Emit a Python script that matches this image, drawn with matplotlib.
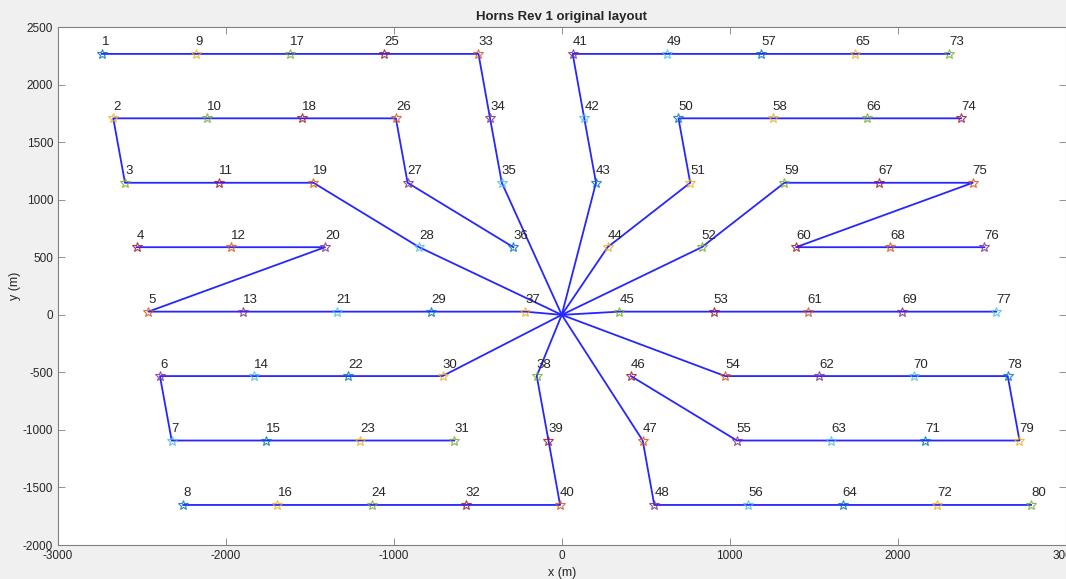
import matplotlib
matplotlib.use("Agg")
import matplotlib.pyplot as plt

# Turbine coordinates (m), numbered 1..80 column by column (8 turbines per column)
turbine_x = [
    -2740, -2671, -2601, -2532, -2462, -2393, -2323, -2254,
    -2179, -2110, -2040, -1971, -1901, -1832, -1762, -1693,
    -1618, -1549, -1479, -1410, -1340, -1271, -1201, -1132,
    -1057, -988, -918, -849, -779, -710, -640, -571,
    -496, -427, -357, -288, -218, -149, -79, -10,
    65, 134, 204, 273, 343, 412, 482, 551,
    626, 695, 765, 834, 904, 973, 1043, 1112,
    1187, 1256, 1326, 1395, 1465, 1534, 1604, 1673,
    1748, 1817, 1887, 1956, 2026, 2095, 2165, 2234,
    2309, 2378, 2448, 2517, 2587, 2656, 2726, 2795,
]
row_y = [2268, 1708, 1148, 588, 28, -532, -1092, -1652]
turbine_y = row_y * 10

# Offshore substation
substation = (0, 0)

# Cable strings, listed from the substation (0) outwards
cable_strings = [
    [0, 35, 34, 33, 25, 17, 9, 1],
    [0, 28, 19, 11, 3, 2, 10, 18, 26, 27, 36],
    [0, 37, 29, 21, 13, 5, 20, 12, 4],
    [0, 30, 22, 14, 6, 7, 15, 23, 31],
    [0, 38, 39, 40, 32, 24, 16, 8],
    [0, 43, 42, 41, 49, 57, 65, 73],
    [0, 44, 51, 50, 58, 66, 74],
    [0, 52, 59, 67, 75, 60, 68, 76],
    [0, 45, 53, 61, 69, 77],
    [0, 54, 62, 70, 78, 79, 71, 63, 55, 46],
    [0, 47, 48, 56, 64, 72, 80],
]

color_order = [
    (0.000, 0.447, 0.741), (0.850, 0.325, 0.098), (0.929, 0.694, 0.125),
    (0.494, 0.184, 0.556), (0.466, 0.674, 0.188), (0.301, 0.745, 0.933),
    (0.635, 0.078, 0.184),
]

plt.rcParams['font.family'] = ['Liberation Sans', 'DejaVu Sans']
plt.rcParams['axes.unicode_minus'] = False
text_col = (0.15, 0.15, 0.15)

fig = plt.figure(figsize=(10.66, 5.79), dpi=100, facecolor=(0.94, 0.94, 0.94))
ax = fig.add_axes([58 / 1066, 34 / 579, 1007.5 / 1066, 517.8 / 579])
ax.set_facecolor('white')


def point(n):
    if n == 0:
        return substation
    return turbine_x[n - 1], turbine_y[n - 1]


for string in cable_strings:
    xs = [point(n)[0] for n in string]
    ys = [point(n)[1] for n in string]
    ax.plot(xs, ys, '-', color=(0.15, 0.15, 1.0), lw=1.3, zorder=2)

for i, (x, y) in enumerate(zip(turbine_x, turbine_y)):
    c = color_order[(2 * i) % 7]
    ax.plot(x, y, marker='*', ms=7, mfc='none', mec=c, mew=0.8, alpha=0.85,
            ls='none', zorder=3)
    ax.annotate(str(i + 1), (x, y), xytext=(0, 4), textcoords='offset points',
                ha='left', va='bottom', fontsize=9.5, color=text_col, zorder=4)

ax.set_xlim(-3000, 3000)
ax.set_ylim(-2000, 2500)
ax.set_xticks(range(-3000, 3001, 1000))
ax.set_yticks(range(-2000, 2501, 500))
ax.tick_params(direction='in', length=5, width=0.6, colors=(0.5, 0.5, 0.5),
               labelcolor=text_col, labelsize=8.5, top=True, right=True)
for s in ax.spines.values():
    s.set_color((0.5, 0.5, 0.5))
    s.set_linewidth(0.8)

ax.set_xlabel('x (m)', fontsize=9, color=text_col, labelpad=4)
ax.set_ylabel('y (m)', fontsize=9, color=text_col, labelpad=1)
ax.set_title('Horns Rev 1 original layout', fontsize=9.5, fontweight='bold',
             color=text_col, pad=5)

fig.savefig('out.png', dpi=100, facecolor=fig.get_facecolor())
